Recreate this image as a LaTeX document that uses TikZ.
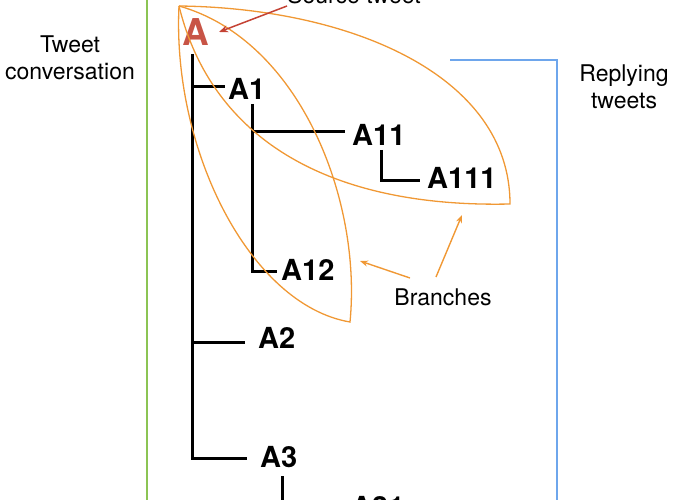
\documentclass[tikz,border=0pt]{standalone}
\usepackage{fontspec}
\setmainfont{TeX Gyre Heros}
\usetikzlibrary{arrows.meta}
\definecolor{gline}{RGB}{140,196,84}
\definecolor{bline}{RGB}{110,166,236}
\definecolor{leaf}{RGB}{240,152,52}
\definecolor{srcred}{RGB}{196,66,52}
\definecolor{ared}{RGB}{200,84,70}
\tikzset{
  lbl/.style={inner sep=0pt, anchor=base west, font=\fontsize{29}{29}\selectfont\bfseries},
  side/.style={inner sep=0pt, align=center, font=\fontsize{23}{27}\selectfont},
  tree/.style={line width=3pt, black},
  leafline/.style={draw=leaf, line width=1.3pt},
  leafarrow/.style={leaf, line width=1.4pt, -{Stealth[length=8pt,width=6pt]}},
}
\begin{document}
\begin{tikzpicture}[x=1pt,y=-1pt]
\useasboundingbox (0,0) rectangle (680,500);
% frame lines
\coordinate (gtop) at (147,-2);
\coordinate (gbot) at (147,502);
\draw[gline, line width=2.2pt] (gtop) -- (gbot);
\coordinate (btl) at (450,60);
\coordinate (btr) at (557,60);
\coordinate (bbot) at (557,502);
\draw[bline, line width=2pt] (btl) -- (btr) -- (bbot);
% side texts
\node[side] (conv) at (70,58) {Tweet\\conversation};
\node[side] (reply) at (624,87) {Replying\\tweets};
\node[side, anchor=base] (branches) at (443,305) {Branches};
\node[inner sep=0pt, anchor=base west, font=\fontsize{23}{23}\selectfont] (source) at (287,4) {Source tweet};
% labels
\node[inner sep=0pt, anchor=base west, font=\fontsize{37}{37}\selectfont\bfseries, text=ared] (A) at (182,46) {A};
\node[lbl] (A1) at (228,100) {A1};
\node[lbl] (A11) at (352,146) {A11};
\node[lbl] (A111) at (427,189) {A111};
\node[lbl] (A12) at (281,280) {A12};
\node[lbl] (A2) at (258,348) {A2};
\node[lbl] (A3) at (260,467) {A3};
\node[lbl] (A31) at (351,517) {A31};
% tree connectors
\coordinate (trtop) at (192,54);
\coordinate (trbot) at (192,458);
\coordinate (a3end) at (247,458);
\coordinate (a1s) at (192,87);
\coordinate (a1e) at (225,87);
\coordinate (a2s) at (192,342);
\coordinate (a2e) at (245,342);
\coordinate (c1top) at (252,104);
\coordinate (c1bot) at (252,271);
\coordinate (a12e) at (277,271);
\coordinate (a11s) at (252,132);
\coordinate (a11e) at (345,132);
\coordinate (c11top) at (381,150);
\coordinate (c11bot) at (381,180);
\coordinate (a111e) at (420,180);
\coordinate (c3top) at (282,476);
\coordinate (c3bot) at (282,503);
\draw[tree] (trtop) -- (trbot) -- (a3end);
\draw[tree] (a1s) -- (a1e);
\draw[tree] (a2s) -- (a2e);
\draw[tree] (c1top) -- (c1bot) -- (a12e);
\draw[tree] (a11s) -- (a11e);
\draw[tree] (c11top) -- (c11bot) -- (a111e);
\draw[tree] (c3top) -- (c3bot);
% leaves
\coordinate (S) at (179,6);
\coordinate (P1) at (510,204);
\coordinate (P2) at (350,322);
\draw[leafline] (S) .. controls (350,8) and (510,75) .. (P1)
  .. controls (330,208) and (212,140) .. (S);
\draw[leafline] (S) .. controls (172,150) and (250,305) .. (P2)
  .. controls (362,200) and (300,40) .. (S);
% arrows
\coordinate (srcT) at (287,6);
\coordinate (srcH) at (219,32);
\draw[srcred, line width=1.5pt, -{Stealth[length=9pt,width=7pt]}] (srcT) -- (srcH);
\coordinate (b1T) at (410,278);
\coordinate (b1H) at (360,261);
\coordinate (b2T) at (436,277);
\coordinate (b2H) at (462,215);
\draw[leafarrow] (b1T) -- (b1H);
\draw[leafarrow] (b2T) -- (b2H);
\end{tikzpicture}
\end{document}
